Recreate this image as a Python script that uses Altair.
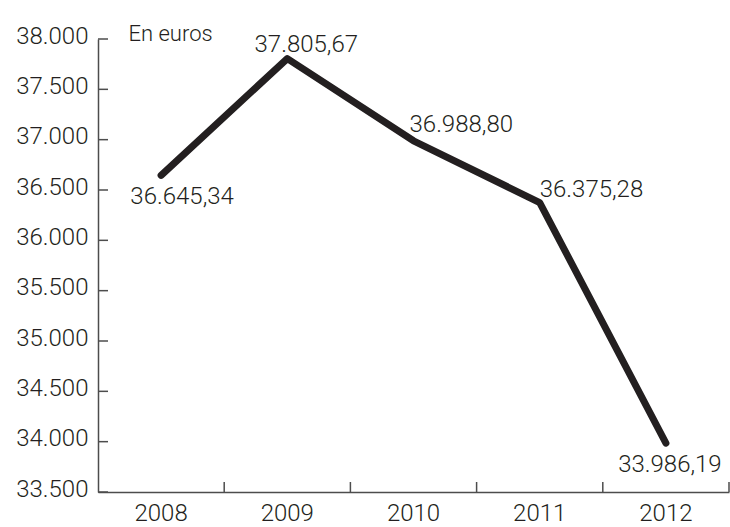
import altair as alt
import pandas as pd

# ---- data ----
years = ["2008", "2009", "2010", "2011", "2012"]
values = [36645.34, 37805.67, 36988.80, 36375.28, 33986.19]
y_tick_values = [33500, 34000, 34500, 35000, 35500, 36000, 36500, 37000, 37500, 38000]
unit_label = "En euros"

df = pd.DataFrame({"year": years, "value": values})
ticks_df = pd.DataFrame({"v": y_tick_values})

W, H = 631, 453
FONT = "Roboto"
INK = "#231f20"
AXIS = "#4d4d4d"

x_scale = alt.Scale(type="band", paddingInner=0, paddingOuter=0)
y_scale = alt.Scale(domain=[33500, 38000], nice=False, zero=False)

x_main = alt.X(
    "year:N", scale=x_scale, bandPosition=0.5, sort=years,
    axis=alt.Axis(title=None, ticks=False, labelAngle=0, labelFont=FONT,
                  labelFontSize=24, labelFontWeight=300, labelColor=INK,
                  labelPadding=9, domainColor=AXIS, domainWidth=1.5,
                  grid=False),
)
y_main = alt.Y(
    "value:Q", scale=y_scale,
    axis=alt.Axis(values=y_tick_values, format=",.0f", ticks=False, grid=False,
                  labelFont=FONT, labelFontSize=24, labelFontWeight=300,
                  labelColor=INK, labelPadding=10, labelOffset=-3,
                  domainColor=AXIS, domainWidth=1.5,
                  title=unit_label, titleAngle=0, titleX=30, titleY=1,
                  titleAlign="left", titleBaseline="alphabetic",
                  titleFont=FONT, titleFontSize=22, titleFontWeight=300,
                  titleColor=INK),
)

base = alt.Chart(df)

line = base.mark_line(color=INK, strokeWidth=7, strokeCap="round",
                      strokeJoin="round").encode(x=x_main, y=y_main)

y_ticks = alt.Chart(ticks_df).mark_rule(color=AXIS, strokeWidth=1.5).encode(
    y=alt.Y("v:Q", scale=y_scale),
    x=alt.value(0), x2=alt.value(10),
)

x_ticks = base.mark_rule(color=AXIS, strokeWidth=1.5).encode(
    x=alt.X("year:N", scale=x_scale, bandPosition=1, sort=years),
    y=alt.value(H - 10), y2=alt.value(H),
)

label_style = [
    ("2008", "center", 21, 29),
    ("2009", "center", 19, -7),
    ("2010", "left", -4, -9),
    ("2011", "left", 0, -6),
    ("2012", "center", 4, 29),
]
labels = []
for yr, al, dx, dy in label_style:
    labels.append(
        base.transform_filter(alt.datum.year == yr).mark_text(
            align=al, baseline="alphabetic", dx=dx, dy=dy, font=FONT,
            fontSize=24, fontWeight=300, color=INK,
        ).encode(
            x=alt.X("year:N", scale=x_scale, bandPosition=0.5, sort=years),
            y=alt.Y("value:Q", scale=y_scale),
            text=alt.Text("value:Q", format=",.2f"),
        )
    )

chart = alt.layer(line, y_ticks, x_ticks, *labels).properties(
    width=W, height=H,
    autosize=alt.AutoSizeParams(type="none"),
    padding={"left": 98, "top": 39, "right": 1, "bottom": 35},
).configure(
    locale={"number": {"decimal": ",", "thousands": ".", "grouping": [3],
                       "currency": ["", " €"]}},
    background="white",
    view=alt.ViewConfig(stroke=None),
)

chart.save("out.html", embed_options={"renderer": "svg", "actions": False})
